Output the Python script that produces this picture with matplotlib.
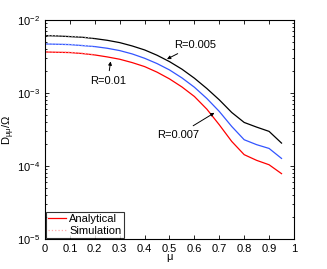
import numpy as np
import matplotlib
matplotlib.use('Agg')
import matplotlib.pyplot as plt

plt.rcParams['font.family'] = ['Liberation Sans', 'DejaVu Sans']
plt.rcParams['mathtext.fontset'] = 'custom'
plt.rcParams['mathtext.rm'] = 'Liberation Sans'
plt.rcParams['mathtext.it'] = 'Liberation Sans'

mu = [0, 0.05, 0.1, 0.15, 0.2, 0.25, 0.3, 0.35, 0.4, 0.45, 0.5,
      0.55, 0.6, 0.65, 0.7, 0.75, 0.8, 0.85, 0.9, 0.95]
d_005 = [6.11e-3, 6.04e-3, 5.92e-3, 5.80e-3, 5.56e-3, 5.27e-3, 4.90e-3, 4.41e-3, 3.89e-3, 3.29e-3,
         2.69e-3, 2.12e-3, 1.595e-3, 1.152e-3, 8.06e-4, 5.41e-4, 3.95e-4, 3.41e-4, 2.98e-4, 2.06e-4]
d_007 = [4.70e-3, 4.65e-3, 4.60e-3, 4.46e-3, 4.32e-3, 4.10e-3, 3.81e-3, 3.43e-3, 2.99e-3, 2.53e-3,
         2.07e-3, 1.61e-3, 1.20e-3, 8.41e-4, 5.59e-4, 3.48e-4, 2.29e-4, 1.96e-4, 1.74e-4, 1.27e-4]
d_01 = [3.65e-3, 3.61e-3, 3.58e-3, 3.47e-3, 3.32e-3, 3.12e-3, 2.90e-3, 2.61e-3, 2.30e-3, 1.93e-3,
        1.56e-3, 1.21e-3, 8.96e-4, 6.01e-4, 3.67e-4, 2.17e-4, 1.43e-4, 1.195e-4, 1.04e-4, 7.86e-5]

# simulation (only small mu)
mu_sim = [0, 0.05, 0.1, 0.15, 0.2]
s_005 = [6.15e-3, 6.1e-3, 6.0e-3, 5.87e-3, 5.65e-3]
s_007 = [4.74e-3, 4.7e-3, 4.65e-3, 4.52e-3, 4.38e-3]
s_01 = [3.68e-3, 3.65e-3, 3.62e-3, 3.52e-3, 3.37e-3]

fig = plt.figure(figsize=(3.27, 2.69), dpi=100)
ax = fig.add_axes([0.1376, 0.1115, 0.7614, 0.8142])

ax.plot(mu, d_005, color='black', lw=0.9)
ax.plot(mu, d_007, color='#3355ff', lw=0.9)
ax.plot(mu, d_01, color='red', lw=0.9, label='Analytical')
ax.plot(mu_sim, s_005, color='#bbbbbb', lw=0.9, ls=':')
ax.plot(mu_sim, s_007, color='#bbccff', lw=0.9, ls=':')
ax.plot(mu_sim, s_01, color='#ffaaaa', lw=0.9, ls=':', label='Simulation')

ax.set_yscale('log')
ax.set_xlim(0, 1)
ax.set_ylim(1e-5, 1e-2)
ax.set_xticks(np.arange(0, 1.01, 0.1))
ax.set_xticklabels(['0', '0.1', '0.2', '0.3', '0.4', '0.5', '0.6', '0.7', '0.8', '0.9', '1'])
ax.tick_params(which='both', direction='in', top=True, right=True, labelsize=8, width=0.6)
ax.tick_params(which='major', length=3)
ax.tick_params(which='minor', length=1.5)
for s in ax.spines.values():
    s.set_linewidth(0.8)

ax.set_xlabel(r'$\mu$', fontsize=8, labelpad=-1)
ax.set_ylabel(r'D$_{\mu\mu}$/$\Omega$', fontsize=8, labelpad=0)

arr = dict(arrowstyle='-|>', color='black', lw=0.7, mutation_scale=5)
ax.annotate('R=0.005', xy=(0.48, 2.8e-3), xytext=(0.52, 4.6e-3), fontsize=8, arrowprops=arr,
            ha='left', va='center')
ax.annotate('R=0.01', xy=(0.265, 2.95e-3), xytext=(0.18, 1.45e-3), fontsize=8, arrowprops=arr,
            ha='left', va='center')
ax.annotate('R=0.007', xy=(0.69, 5.6e-4), xytext=(0.45, 2.66e-4), fontsize=8, arrowprops=arr,
            ha='left', va='center')

leg = ax.legend(loc='lower left', fontsize=8, frameon=True, fancybox=False, edgecolor='black',
                borderaxespad=0.1, handlelength=1.6, handletextpad=0.3, borderpad=0.2, labelspacing=0.15)
leg.get_frame().set_linewidth(0.8)

fig.savefig('out.png', dpi=100)
